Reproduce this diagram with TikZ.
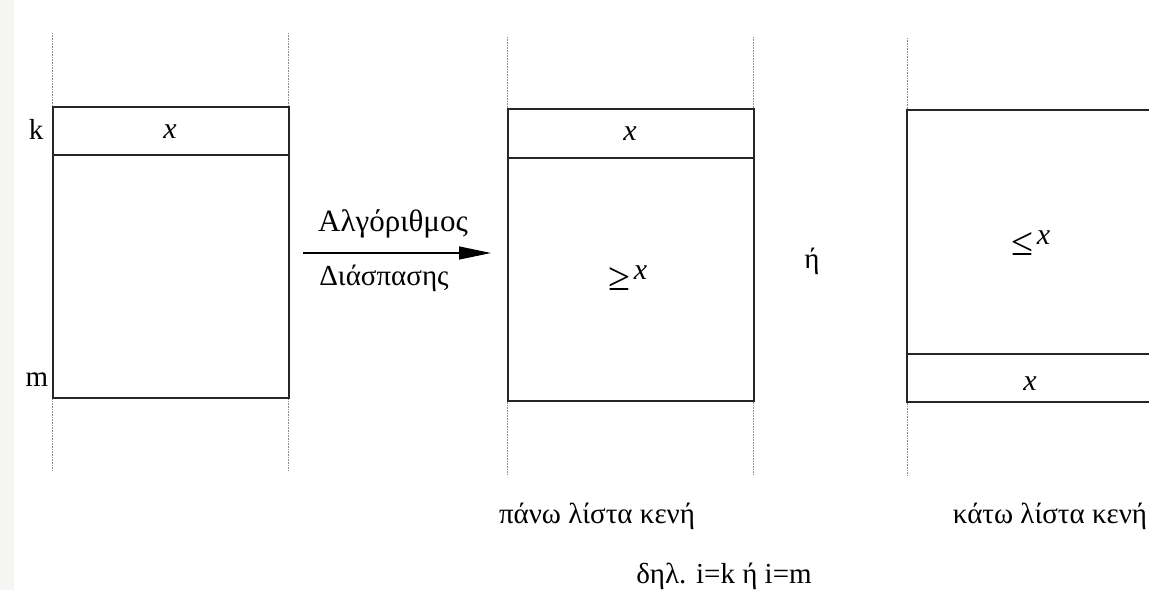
\documentclass[tikz,border=0pt]{standalone}
\usepackage{fontspec}
\setmainfont{Liberation Serif}
\usetikzlibrary{arrows.meta}
\tikzset{
  box/.style={draw=black!85, line width=1.6pt, inner sep=0pt},
  guide/.style={draw=black!45, line width=0.6pt, densely dotted},
  lbl/.style={font=\fontsize{29}{32}\selectfont, inner sep=0pt},
  var/.style={font=\fontsize{30}{32}\selectfont\itshape, inner sep=0pt},
}
\newcommand{\rel}[1]{{\fontsize{40}{42}\selectfont #1}\hspace{3pt}\raisebox{11pt}{\fontsize{30}{32}\selectfont\itshape x}}
\begin{document}
\begin{tikzpicture}[x=1pt,y=-1pt]
\useasboundingbox (0,0) rectangle (1149,590);
\fill[yellow!8!black!5] (0,0) rectangle (14,590);
% guide lines
\draw[guide] (52,33) -- (52,470);
\draw[guide] (288,33) -- (288,470);
\draw[guide] (507,37) -- (507,475);
\draw[guide] (753,37) -- (753,475);
\draw[guide] (907,38) -- (907,476);
% left list
\node[box, minimum width=236pt, minimum height=48pt, anchor=north west] (lt) at (52,106) {};
\node[box, minimum width=236pt, minimum height=243pt, anchor=north west] (lb) at (52,154) {};
\node[var] (lx) at (170,132) {x};
\node[lbl] (k) at (36,129) {k};
\node[lbl] (m) at (37,380) {m};
% arrow
\coordinate (as) at (303,253);
\coordinate (ae) at (491,253);
\draw[line width=1.3pt, -{Triangle[length=32pt,width=13pt]}] (as) -- (ae);
\node[lbl, font=\fontsize{31}{34}\selectfont] (alg) at (393,224) {Αλγόριθμος};
\node[lbl] (dia) at (384,278) {Διάσπασης};
% middle list
\node[box, minimum width=246pt, minimum height=49pt, anchor=north west] (mt) at (507,108) {};
\node[box, minimum width=246pt, minimum height=243pt, anchor=north west] (mb) at (507,157) {};
\node[var] (mx) at (630,134) {x};
\node[lbl] (mge) at (628,278) {\rel{≥}};
% or
\node[lbl] (or) at (812,261) {ή};
% right list
\draw[box] (1160,110) -- (907,110) -- (907,402) -- (1160,402);
\draw[box] (907,354) -- (1160,354);
\coordinate (rt) at (907,110);
\node[lbl] (rle) at (1031,243) {\rel{≤}};
\node[var] (rx) at (1030,384) {x};
% captions
\node[lbl] (c1) at (597,516) {πάνω λίστα κενή};
\node[lbl] (c2) at (1050,516) {κάτω λίστα κενή};
\node[lbl] (c3) at (724,576) {δηλ. i=k ή i=m};
\end{tikzpicture}
\end{document}
